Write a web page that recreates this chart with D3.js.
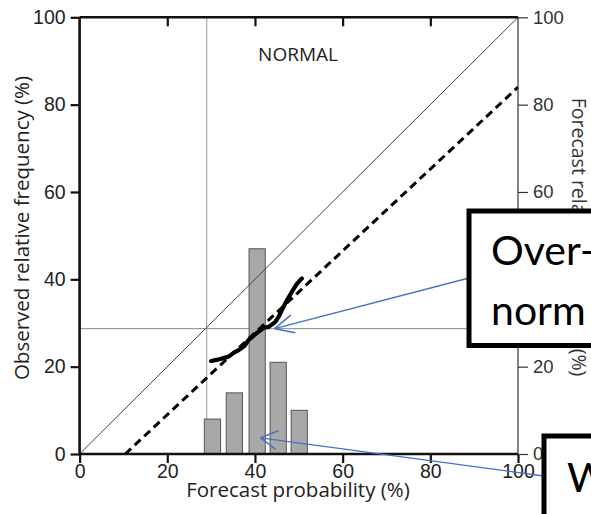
<!DOCTYPE html>
<html>
<head>
<meta charset="utf-8">
<script src="https://cdn.jsdelivr.net/npm/d3@7"></script>
<style>
  body { margin: 0; background: #fff; }
  svg { display: block; font-family: "Open Sans", sans-serif; }
  .ax text { font-size: 19.5px; fill: #222; }
  .callout text { font-family: Lato, "Noto Sans", sans-serif; font-size: 41px; fill: #000; }
</style>
</head>
<body>
<svg id="chart" width="591" height="514"></svg>
<script>
// reliability diagram, "NORMAL" category
const binCenters = [30.3, 35.3, 40.5, 45.3, 50.1];   // forecast probability bins (%)
const binFreq = [8, 14, 47, 21, 10];                  // forecast relative frequency (%)
const relX = [30.0, 31.5, 34.0, 35.2, 36.3, 37.6, 38.5, 40.8, 42.0, 43.1, 44.6, 45.4, 46.9, 48.4, 49.6, 50.7];
const relY = [21.3, 21.6, 22.3, 23.2, 23.8, 24.7, 26.1, 28.0, 28.9, 29.1, 30.2, 31.4, 34.5, 37.1, 39.0, 40.2];
const fitX = [10.4, 100];     // dashed line
const fitY = [0, 84];
const climX = 29, climY = 28.7;
const ticks = [0, 20, 40, 60, 80, 100];
const barW = 3.7;

const svg = d3.select('#chart');
const x = d3.scaleLinear().domain([0, 100]).range([79.6, 518]);
const y = d3.scaleLinear().domain([0, 100]).range([454, 17.3]);

// climatology guides
svg.append('line').attr('x1', x(climX)).attr('x2', x(climX)).attr('y1', y(0)).attr('y2', y(100))
  .attr('stroke', '#999').attr('stroke-width', 1);
svg.append('line').attr('x1', x(0)).attr('x2', x(100)).attr('y1', y(climY)).attr('y2', y(climY))
  .attr('stroke', '#888').attr('stroke-width', 1);

// histogram bars
svg.append('g').selectAll('rect').data(binCenters).join('rect')
  .attr('x', (c) => x(c - barW / 2))
  .attr('width', x(barW) - x(0))
  .attr('y', (c, i) => y(binFreq[i]))
  .attr('height', (c, i) => y(0) - y(binFreq[i]))
  .attr('fill', '#a8a8a8').attr('stroke', '#555').attr('stroke-width', 1);

// perfect reliability diagonal
svg.append('line').attr('x1', x(0)).attr('y1', y(0)).attr('x2', x(100)).attr('y2', y(100))
  .attr('stroke', '#444').attr('stroke-width', 1);

const line = d3.line().x(d => x(d[0])).y(d => y(d[1]));
svg.append('path').attr('d', line(d3.zip(fitX, fitY)))
  .attr('fill', 'none').attr('stroke', '#000').attr('stroke-width', 3)
  .attr('stroke-dasharray', '8,5');
svg.append('path').attr('d', line(d3.zip(relX, relY)))
  .attr('fill', 'none').attr('stroke', '#000').attr('stroke-width', 4.2)
  .attr('stroke-linejoin', 'round').attr('stroke-linecap', 'round');

// axes
const fmt = d3.format('d');
const gL = svg.append('g').attr('class', 'ax').attr('transform', `translate(${x(0)},0)`)
  .call(d3.axisLeft(y).tickValues(ticks).tickFormat(fmt).tickSize(9).tickPadding(5));
const gB = svg.append('g').attr('class', 'ax').attr('transform', `translate(0,${y(0)})`)
  .call(d3.axisBottom(x).tickValues(ticks).tickFormat(fmt).tickSize(9).tickPadding(1));
const gT = svg.append('g').attr('class', 'ax').attr('transform', `translate(0,${y(100)})`)
  .call(d3.axisBottom(x).tickValues([20, 40, 60, 80]).tickFormat('').tickSize(9));
[gL, gB, gT].forEach(g => {
  g.select('.domain').attr('stroke', '#111').attr('stroke-width', 2.6);
  g.selectAll('.tick line').attr('stroke', '#111').attr('stroke-width', 2.2);
});
gL.select('.domain').attr('d', `M0,${y(0)}V${y(100)}`);
gB.select('.domain').attr('d', `M${x(0)},0H${x(100)}`);
gT.select('.domain').attr('d', `M${x(0)},0H${x(100)}`);
const gR = svg.append('g').attr('class', 'ax').attr('transform', `translate(${x(100)},0)`)
  .call(d3.axisRight(y).tickValues(ticks).tickFormat(fmt).tickSize(10).tickPadding(5));
gR.select('.domain').attr('d', `M0,${y(0)}V${y(100)}`).attr('stroke', '#333').attr('stroke-width', 1.2);
gR.selectAll('.tick line').attr('stroke', '#333').attr('stroke-width', 1.2);
gR.selectAll('text').style('fill', '#333').style('font-size', '18.5px');

// labels
svg.append('text').attr('x', 298).attr('y', 61).attr('text-anchor', 'middle')
  .style('font-size', '19px').style('fill', '#222').text('NORMAL');
svg.append('text').attr('x', 298).attr('y', 497).attr('text-anchor', 'middle')
  .style('font-size', '20.5px').style('fill', '#222').text('Forecast probability (%)');
svg.append('text').attr('transform', 'translate(29,228) rotate(-90)').attr('text-anchor', 'middle')
  .style('font-size', '20.5px').style('fill', '#222').text('Observed relative frequency (%)');
svg.append('text').attr('transform', 'translate(572,237) rotate(90)').attr('text-anchor', 'middle')
  .style('font-size', '19.5px').style('fill', '#333').text('Forecast relative frequency (%)');

// callout arrows
const blue = '#4472c4';
function arrow(from, to, spread, len) {
  const a = Math.atan2(from[1] - to[1], from[0] - to[0]);
  svg.append('line').attr('x1', from[0]).attr('y1', from[1]).attr('x2', to[0]).attr('y2', to[1])
    .attr('stroke', blue).attr('stroke-width', 1.3);
  [-spread, spread].forEach(s => {
    svg.append('line').attr('x1', to[0]).attr('y1', to[1])
      .attr('x2', to[0] + len * Math.cos(a + s)).attr('y2', to[1] + len * Math.sin(a + s))
      .attr('stroke', blue).attr('stroke-width', 1.5);
  });
}
arrow([469, 278], [x(44.5), y(28.7)], 0.45, 21);
arrow([544, 476], [x(41.3), y(3.7)], 0.52, 19);

// callout boxes
const c1 = svg.append('g').attr('class', 'callout');
c1.append('rect').attr('x', 469).attr('y', 211).attr('width', 140).attr('height', 134.5)
  .attr('fill', '#fff').attr('stroke', '#000').attr('stroke-width', 5);
c1.append('text').attr('x', 491).attr('y', 265).text('Over-');
c1.append('text').attr('x', 491).attr('y', 325).text('norm');
const c2 = svg.append('g').attr('class', 'callout');
c2.append('rect').attr('x', 544).attr('y', 436).attr('width', 80).attr('height', 100)
  .attr('fill', '#fff').attr('stroke', '#000').attr('stroke-width', 5);
c2.append('text').attr('x', 567).attr('y', 492).text('W');
</script>
</body>
</html>
